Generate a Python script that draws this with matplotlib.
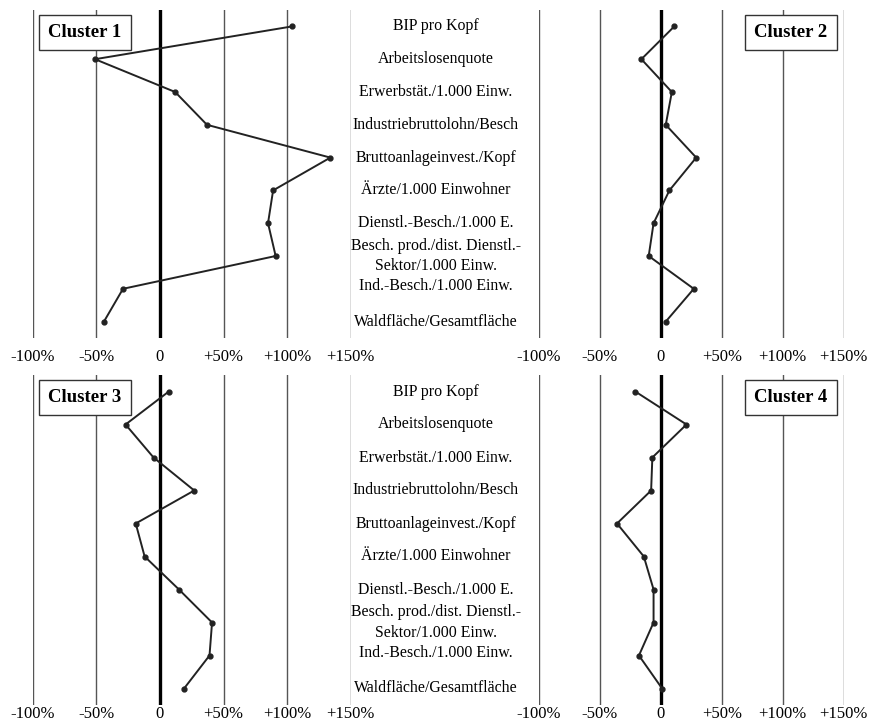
import matplotlib.pyplot as plt

plt.rcParams['font.family'] = ['Liberation Serif', 'DejaVu Serif']

indicators = ["BIP pro Kopf", "Arbeitslosenquote", "Erwerbstät./1.000 Einw.",
              "Industriebruttolohn/Besch", "Bruttoanlageinvest./Kopf",
              "Ärzte/1.000 Einwohner", "Dienstl.-Besch./1.000 E.",
              "Besch. prod./dist. Dienstl.-\nSektor/1.000 Einw.",
              "Ind.-Besch./1.000 Einw.", "Waldfläche/Gesamtfläche"]

cluster1 = [104, -51, 12, 37, 134, 89, 85, 91, -29, -44]
cluster2 = [11, -16, 9, 4, 29, 7, -6, -10, 27, 4]
cluster3 = [7, -27, -5, 27, -19, -12, 15, 41, 39, 19]
cluster4 = [-21, 21, -7, -8, -36, -14, -6, -6, -18, 1]

ticks = [-100, -50, 0, 50, 100, 150]
tick_labels = ["-100%", "-50%", "0", "+50%", "+100%", "+150%"]

W, H = 871, 724
fig = plt.figure(figsize=(W / 100, H / 100), dpi=100)

# panel boxes in pixels: left, top, right, bottom
panels = [
    (32.7, 10, 350.7, 338, cluster1, "Cluster 1", "left", 8),
    (539, 10, 843.7, 338, cluster2, "Cluster 2", "right", 8),
    (32.7, 375, 350.7, 705, cluster3, "Cluster 3", "left", 1),
    (539, 375, 843.7, 705, cluster4, "Cluster 4", "right", 1),
]

for x0, y0, x1, y1, values, name, side, pad in panels:
    ax = fig.add_axes([x0 / W, 1 - y1 / H, (x1 - x0) / W, (y1 - y0) / H])
    pos = list(range(len(indicators)))
    for t in ticks:
        if t == 0:
            ax.axvline(t, color="black", lw=2.4, zorder=2)
        else:
            ax.axvline(t, color="#555555", lw=1.0, zorder=1)
    ax.plot(values, pos, color="#222222", lw=1.4, marker="o", ms=3.5, zorder=3)
    ax.set_xlim(-100, 150)
    ax.set_ylim(9.5, -0.5)
    ax.set_xticks(ticks)
    ax.set_xticklabels(tick_labels, fontsize=12)
    ax.tick_params(axis="x", length=0, pad=pad)
    ax.set_yticks([])
    for s in ax.spines.values():
        s.set_visible(False)
    ax.patch.set_alpha(0)

    if side == "left":
        bx = (84.5 - x0) / (x1 - x0)
        for i, lab in enumerate(indicators):
            dy = -0.08 if i == 8 else 0
            ax.text((436 - x0) / (x1 - x0), i + dy, lab, transform=ax.get_yaxis_transform(),
                    ha="center", va="center", fontsize=11.4, linespacing=1.4, clip_on=False)
    else:
        bx = (791 - x0) / (x1 - x0)
    by = 1 - 22.5 / (y1 - y0)
    ax.text(bx, by, name, transform=ax.transAxes, ha="center", va="center",
            fontsize=13.5, fontweight="bold", zorder=5,
            bbox=dict(boxstyle="square,pad=0.5", fc="white", ec="#333333", lw=1.0))

fig.savefig("out.png", dpi=100)
